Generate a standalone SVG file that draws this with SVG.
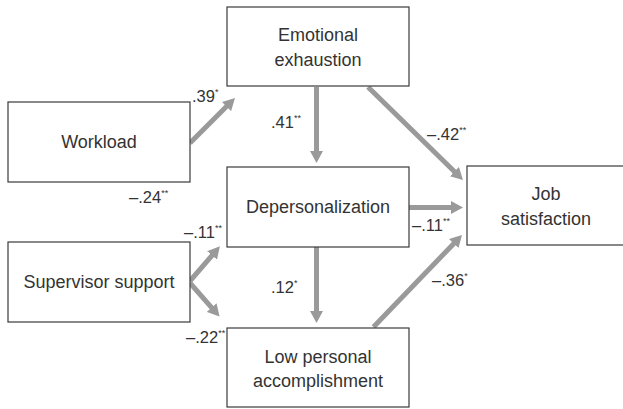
<svg xmlns="http://www.w3.org/2000/svg" width="623" height="409" viewBox="0 0 623 409">
<style>
.box{fill:#fff;stroke:#3a3a3a;stroke-width:1.2}
.nt{font-family:"Liberation Sans",Arial,sans-serif;font-size:18px;fill:#333;text-anchor:middle}
.lb{font-family:"Liberation Sans",Arial,sans-serif;font-size:16.5px;fill:#333}
.st{font-size:9px}
.arr{stroke:#9a9a9a;stroke-width:5;fill:none;marker-end:url(#ah)}
</style>
<defs>
<marker id="ah" markerUnits="userSpaceOnUse" markerWidth="13" markerHeight="13" viewBox="0 0 13 13" refX="1" refY="6.5" orient="auto">
<path d="M0,0 L12,6.5 L0,13 z" fill="#9a9a9a"/>
</marker>
</defs>
<rect width="623" height="409" fill="#fff"/>
<g id="connectors">
<line class="arr" x1="190" y1="143" x2="227.2" y2="105.8"/>
<line class="arr" x1="316.5" y1="87" x2="316.5" y2="152"/>
<line class="arr" x1="368" y1="87" x2="455.1" y2="172.3"/>
<line class="arr" x1="409" y1="207.5" x2="452" y2="207.5"/>
<line class="arr" x1="190" y1="281" x2="212.7" y2="254.7"/>
<line class="arr" x1="190" y1="283" x2="212.3" y2="308.3"/>
<line class="arr" x1="316.5" y1="247" x2="316.5" y2="312"/>
<line class="arr" x1="373.5" y1="327" x2="454.4" y2="242.9"/>
</g>
<g id="emotional">
<rect class="box" x="227" y="7" width="182" height="79"/>
<text class="nt" x="318" y="41">Emotional</text>
<text class="nt" x="318" y="66">exhaustion</text>
</g>
<g id="workload">
<rect class="box" x="8" y="102" width="182" height="80"/>
<text class="nt" x="99" y="148">Workload</text>
</g>
<g id="depersonalization">
<rect class="box" x="227" y="167" width="182" height="80"/>
<text class="nt" x="318" y="213">Depersonalization</text>
</g>
<g id="supervisor">
<rect class="box" x="8" y="242" width="182" height="80"/>
<text class="nt" x="99" y="288">Supervisor support</text>
</g>
<g id="low">
<rect class="box" x="227" y="328" width="182" height="79"/>
<text class="nt" x="318" y="363">Low personal</text>
<text class="nt" x="318" y="387">accomplishment</text>
</g>
<g id="job">
<rect class="box" x="467" y="166" width="160" height="79"/>
<text class="nt" x="546" y="200">Job</text>
<text class="nt" x="546" y="225">satisfaction</text>
</g>
<g id="labels">
<text class="lb" x="192" y="102">.39<tspan class="st" dy="-7">*</tspan></text>
<text class="lb" x="271" y="128">.41<tspan class="st" dy="-7">**</tspan></text>
<text class="lb" x="427" y="140">–.42<tspan class="st" dy="-7">**</tspan></text>
<text class="lb" x="129" y="203">–.24<tspan class="st" dy="-7">**</tspan></text>
<text class="lb" x="184" y="238">–.11<tspan class="st" dy="-7">**</tspan></text>
<text class="lb" x="412" y="231">–.11<tspan class="st" dy="-7">**</tspan></text>
<text class="lb" x="271" y="293">.12<tspan class="st" dy="-7">*</tspan></text>
<text class="lb" x="432" y="286">–.36<tspan class="st" dy="-7">*</tspan></text>
<text class="lb" x="186" y="343">–.22<tspan class="st" dy="-7">**</tspan></text>
</g>
</svg>
